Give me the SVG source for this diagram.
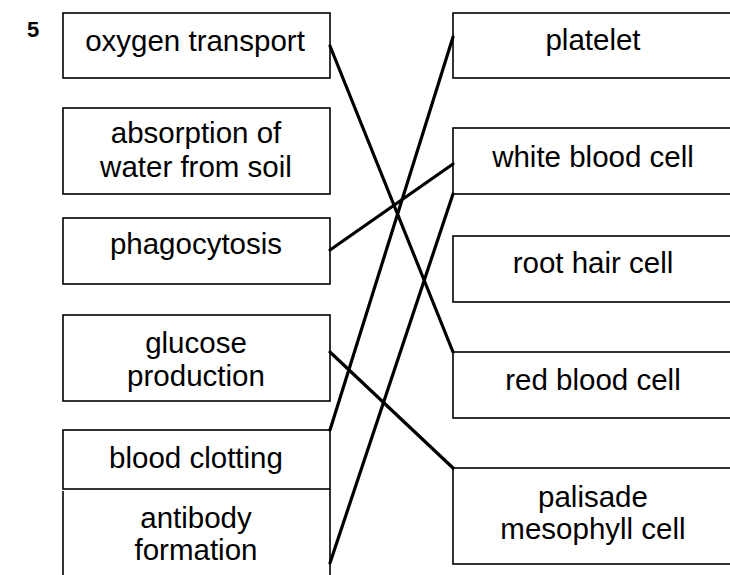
<svg xmlns="http://www.w3.org/2000/svg" width="730" height="575" viewBox="0 0 730 575">
<style>
.box{fill:none;stroke:#000;stroke-width:1.6}
.t{font-family:"Liberation Sans",Arial,sans-serif;font-size:29.5px;fill:#000;text-anchor:middle}
.c{stroke:#000;stroke-width:3.2;fill:none;stroke-linecap:round}
</style>
<rect width="730" height="575" fill="#fff"/>
<text x="27" y="37" font-family="Liberation Sans,Arial,sans-serif" font-size="22" font-weight="bold">5</text>
<g id="oxygen-transport"><rect class="box" x="63" y="13" width="267" height="65"/><text class="t" x="195" y="51">oxygen transport</text></g>
<g id="absorption"><rect class="box" x="63" y="108" width="267" height="86"/><text class="t" x="196" y="143">absorption of</text><text class="t" x="196" y="177">water from soil</text></g>
<g id="phagocytosis"><rect class="box" x="63" y="218" width="267" height="66"/><text class="t" x="196" y="254">phagocytosis</text></g>
<g id="glucose-production"><rect class="box" x="63" y="315" width="267" height="86"/><text class="t" x="196" y="353">glucose</text><text class="t" x="196" y="386">production</text></g>
<g id="blood-clotting"><rect class="box" x="63" y="430" width="267" height="59"/><text class="t" x="196" y="468">blood clotting</text></g>
<g id="antibody-formation"><path class="box" d="M63,491 V576 M330,489 V576"/><text class="t" x="196" y="528">antibody</text><text class="t" x="196" y="560">formation</text></g>
<g id="platelet"><rect class="box" x="453" y="13" width="290" height="65"/><text class="t" x="593" y="50">platelet</text></g>
<g id="white-blood-cell"><rect class="box" x="453" y="128" width="290" height="66"/><text class="t" x="593" y="167">white blood cell</text></g>
<g id="root-hair-cell"><rect class="box" x="453" y="236" width="290" height="66"/><text class="t" x="593" y="273">root hair cell</text></g>
<g id="red-blood-cell"><rect class="box" x="453" y="352" width="290" height="66"/><text class="t" x="593" y="390">red blood cell</text></g>
<g id="palisade-mesophyll-cell"><rect class="box" x="453" y="468" width="290" height="96"/><text class="t" x="593" y="507">palisade</text><text class="t" x="593" y="539">mesophyll cell</text></g>
<g id="connectors">
<line class="c" x1="330" y1="46" x2="453" y2="352"/>
<line class="c" x1="330" y1="430" x2="453" y2="37"/>
<line class="c" x1="330" y1="250" x2="453" y2="164"/>
<line class="c" x1="330" y1="563" x2="453" y2="194"/>
<line class="c" x1="330" y1="352" x2="453" y2="468"/>
</g>
</svg>
